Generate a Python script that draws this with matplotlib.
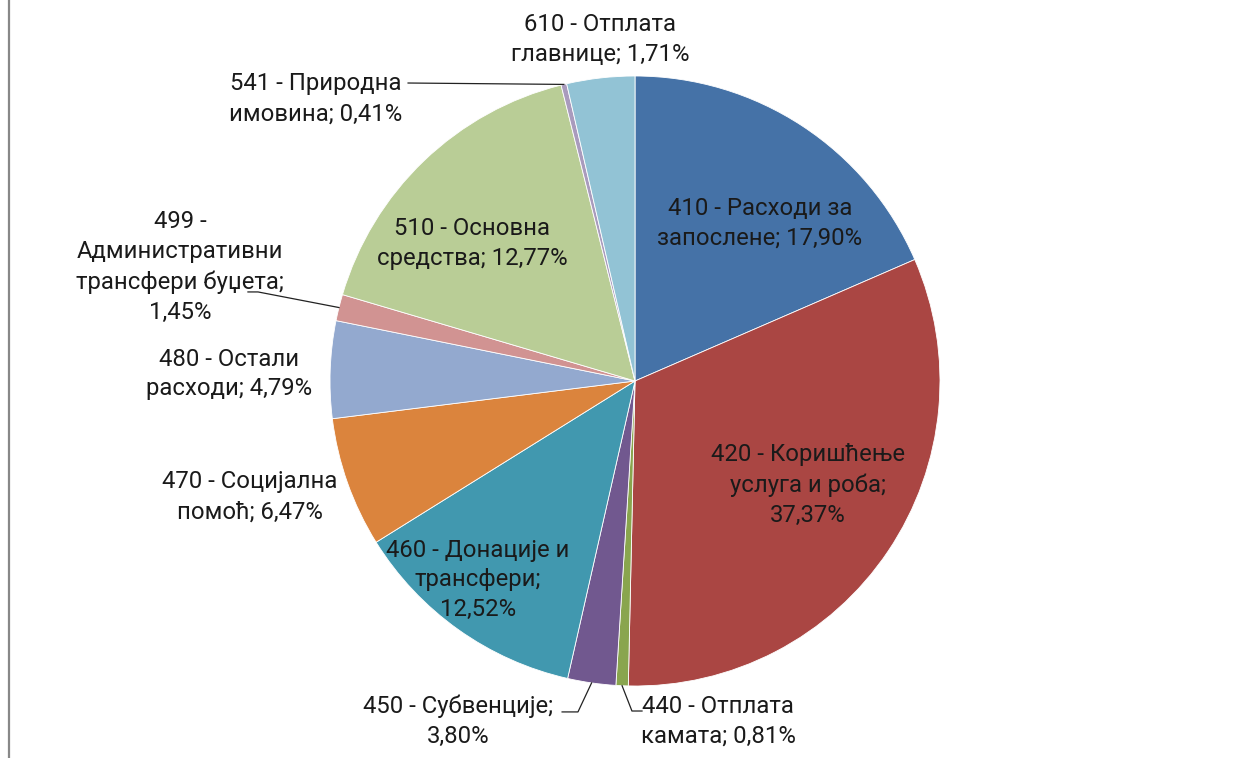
import matplotlib
matplotlib.use("Agg")
import matplotlib.pyplot as plt
import numpy as np

plt.rcParams['font.family'] = ['Roboto', 'DejaVu Sans']

# slice sizes as drawn in the picture (clockwise from 12 o'clock)
codes = ['410', '420', '440', '450', '460', '470', '480', '499', '510', '541', '610']
shares = [18.5, 31.9, 0.65, 2.55, 12.6, 6.9, 5.15, 1.4, 16.55, 0.3, 3.6]
# label texts as printed on the chart
labels = [
    '410 - Расходи за\nзапослене; 17,90%',
    '420 - Коришћење\nуслуга и роба;\n37,37%',
    '440 - Отплата\nкамата; 0,81%',
    '450 - Субвенције;\n3,80%',
    '460 - Донације и\nтрансфери;\n12,52%',
    '470 - Социјална\nпомоћ; 6,47%',
    '480 - Остали\nрасходи; 4,79%',
    '499 -\nАдминистративни\nтрансфери буџета;\n1,45%',
    '510 - Основна\nсредства; 12,77%',
    '541 - Природна\nимовина; 0,41%',
    '610 - Отплата\nглавнице; 1,71%',
]
colors = ['#4572A7', '#AA4643', '#89A54E', '#71588F', '#4198AF', '#DB843D',
          '#93A9CF', '#D19392', '#B9CD96', '#A99BBD', '#92C3D5']

# label centres (axes data units, pie radius = 1)
label_pos = [(0.41, 0.518), (0.567, -0.341), (0.272, -1.115), (-0.58, -1.115),
             (-0.515, -0.652), (-1.262, -0.38), (-1.331, 0.023), (-1.492, 0.374),
             (-0.534, 0.452), (-1.046, 0.925), (-0.115, 1.121)]
# elbow points of leader lines for small slices
leaders = {'440': [(0.023, -1.082), (-0.01, -1.082)],
           '450': [(-0.239, -1.085), (-0.187, -1.085)],
           '499': [(-1.269, 0.292), (-1.236, 0.292)],
           '541': [(-0.744, 0.977), (-0.744, 0.977)]}

W, H = 1246, 758
fig = plt.figure(figsize=(W / 100, H / 100), dpi=100)
cx, cy, r = 635, 381, 305
ax = fig.add_axes([(cx - r) / W, (H - cy - r) / H, 2 * r / W, 2 * r / H])
wedges, _ = ax.pie(shares, colors=colors, startangle=90, counterclock=False,
                   radius=1, wedgeprops=dict(linewidth=0.6, edgecolor='white'))
ax.set_xlim(-1, 1)
ax.set_ylim(-1, 1)
ax.set_aspect('equal')
ax.axis('off')

for code, w, lab, (lx, ly) in zip(codes, wedges, labels, label_pos):
    ax.text(lx, ly, lab, ha='center', va='center', fontsize=17.2,
            color='#1a1a1a', linespacing=1.38)
    if code in leaders:
        mid = np.deg2rad((w.theta1 + w.theta2) / 2)
        p0, p1 = leaders[code]
        xs = [p0[0], p1[0], np.cos(mid)]
        ys = [p0[1], p1[1], np.sin(mid)]
        ax.plot(xs, ys, color='#222222', lw=0.9, clip_on=False)

# left frame line
fig.add_artist(plt.Line2D([9 / W, 9 / W], [0, 1], color='#888888', lw=1.6))

fig.savefig('out.png', dpi=100)
